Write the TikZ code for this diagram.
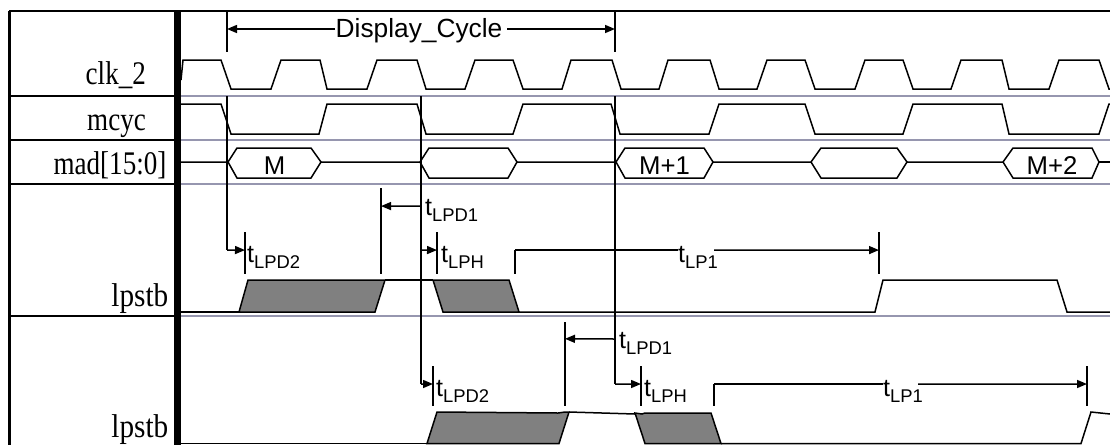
\documentclass[tikz,border=0pt]{standalone}
\usepackage{fontspec}
\setmainfont{Liberation Serif}
\setsansfont{Liberation Sans}
\usetikzlibrary{arrows.meta}
\definecolor{sepgray}{RGB}{150,150,175}
\definecolor{fillgray}{RGB}{128,128,128}
\newcommand{\tsub}[1]{{\fontsize{25}{25}\selectfont t}\raisebox{-6pt}{\fontsize{18.4}{18.4}\selectfont #1}}

\begin{document}
\begin{tikzpicture}[x=1pt,y=-1pt,>={Triangle[length=10pt,width=8pt]}]

%
% Styles
%
\tikzstyle{frame} = [line width=2pt,black]
\tikzstyle{sep} = [line width=1.6pt,sepgray]
\tikzstyle{wave} = [line width=1.5pt,black,line join=miter]
\tikzstyle{burst} = [line width=1.5pt,black,fill=fillgray]
\tikzstyle{tick} = [line width=1.5pt,black]
\tikzstyle{sig} = [anchor=base east,inner sep=0pt,xscale=0.82,font=\fontsize{33}{33}\selectfont\rmfamily]
\tikzstyle{data} = [anchor=base,inner sep=0pt,font=\fontsize{25.7}{25.7}\selectfont\sffamily]
\tikzstyle{timing} = [anchor=base west,inner sep=0pt,font=\sffamily]

\useasboundingbox (0,0) rectangle (1110,445);

% frame
\draw[frame] (9,11) -- (1110,11);
\draw[line width=3pt] (9.5,11) -- (9.5,445);
\draw[line width=7pt] (177.5,11) -- (177.5,445);
\foreach \y in {96,140,184,316} {
  \draw[frame] (9,\y) -- (174,\y);
  \draw[sep] (181,\y) -- (1110,\y);
}

% signal names
\node[sig] (clk) at (146,84) {clk\_2};
\node[sig] (mcyc) at (146,130) {mcyc};
\node[sig] (mad) at (166.5,174) {mad[15:0]};
\node[sig,xscale=1.08] (lpstba) at (168.5,306) {lpstb};
\node[sig,xscale=1.08] (lpstbb) at (168.5,437) {lpstb};

% clk_2
\draw[wave] (181,80) -- (183,60) -- (221,60) -- (231,89) -- (271,89) -- (281,60)
  -- (320,60) -- (327,89) -- (367,89) -- (377,60) -- (417,60) -- (426,89)
  -- (465,89) -- (475,60) -- (513,60) -- (523,89) -- (562,89) -- (571,60)
  -- (612,60) -- (621,89) -- (659,89) -- (668,60) -- (710,60) -- (719,89)
  -- (757,89) -- (767,60) -- (805,60) -- (815,89) -- (855,89) -- (865,60)
  -- (903,60) -- (913,89) -- (951,89) -- (961,60) -- (1002,60) -- (1009,89)
  -- (1049,89) -- (1059,60) -- (1099,60) -- (1109,89) -- (1110,89);

% mcyc
\draw[wave] (181,104) -- (221,104) -- (231,134) -- (319,134) -- (327,104)
  -- (417,104) -- (426,134) -- (513,134) -- (523,104) -- (611,104) -- (620,134)
  -- (709,134) -- (719,104) -- (805,104) -- (815,134) -- (903,134) -- (913,104)
  -- (1002,104) -- (1009,134) -- (1099,134) -- (1109,104) -- (1110,104);

% mad
\draw[wave] (181,162) -- (228,162) -- (237,148) -- (311,148) -- (321,162) -- (311,178) -- (237,178) -- (228,162);
\draw[wave] (321,162) -- (420,162) -- (429,148) -- (508,148) -- (517,162) -- (508,178) -- (429,178) -- (420,162);
\draw[wave] (517,162) -- (616,162) -- (625,148) -- (704,148) -- (713,162) -- (704,178) -- (625,178) -- (616,162);
\draw[wave] (713,162) -- (811,162) -- (821,148) -- (897,148) -- (907,162) -- (897,178) -- (821,178) -- (811,162);
\draw[wave] (907,162) -- (1003,162) -- (1013,148) -- (1092,148) -- (1099,162) -- (1092,178) -- (1013,178) -- (1003,162);
\draw[wave] (1099,162) -- (1110,162);
\node[data] (m) at (274.5,174) {M};
\node[data] (mp1) at (664.5,174) {M+1};
\node[data] (mp2) at (1052,174) {M+2};

% lpstb, first
\draw[wave] (181,312) -- (239,312);
\draw[burst] (239,312) -- (248,280) -- (385,280) -- (375,312) -- cycle;
\draw[wave] (385,280) -- (433,280);
\draw[burst] (433,280) -- (509,280) -- (519,312) -- (443,312) -- cycle;
\draw[wave] (519,312) -- (875,312) -- (883,280) -- (1057,280) -- (1067,312) -- (1110,312);

% lpstb, second
\draw[wave] (181,443.5) -- (427,443.5);
\draw[burst] (427,443.5) -- (437,412) -- (558,413) -- (565,412) -- (569,412) -- (559,443.5) -- cycle;
\draw[wave] (569,412) -- (635,414);
\draw[burst] (635,413) -- (645,443.5) -- (721,443.5) -- (711,413) -- (645,413) -- (642,414) -- cycle;
\draw[wave] (721,443.5) -- (1081,443.5) -- (1091,412) -- (1110,414);

% reference lines
\coordinate (dcl) at (227,29);
\coordinate (dcr) at (615,29);
\coordinate (aa) at (227,250);
\coordinate (bb) at (421,250);
\coordinate (bc) at (421,206);
\coordinate (bd) at (421,384);
\coordinate (cc) at (615,384);
\coordinate (cd) at (615,339);
\foreach \x in {227,615} {
  \draw[tick] (\x,11) -- (\x,52);
}
\draw[tick] (227,96) -- (aa);
\draw[tick] (421,96) -- (bd);
\draw[tick] (615,96) -- (cc);

% ticks
\draw[tick] (245,232) -- coordinate[pos=0.43] (ta) (245,274);
\draw[tick] (381,188) -- coordinate[pos=0.21] (tb) (381,274);
\draw[tick] (437,232) -- coordinate[pos=0.43] (tc) (437,274);
\draw[tick] (515,250) -- coordinate[pos=0] (td) (515,274);
\draw[tick] (879,232) -- coordinate[pos=0.43] (te) (879,274);
\draw[tick] (565,322) -- coordinate[pos=0.2] (tf) (565,406);
\draw[tick] (433,366) -- coordinate[pos=0.45] (tg) (433,406);
\draw[tick] (641,366) -- coordinate[pos=0.45] (th) (641,406);
\draw[tick] (714,384) -- coordinate[pos=0] (ti) (714,406);
\draw[tick] (1087,366) -- coordinate[pos=0.45] (tj) (1087,406);

% labels
\node[data,font=\fontsize{26.3}{26.3}\selectfont\sffamily] (cycle) at (419,37) {Display\_Cycle};
\node[timing] (lpda) at (247,262) {\tsub{LPD2}};
\node[timing] (lpdb) at (425,215) {\tsub{LPD1}};
\node[timing] (lpha) at (441,262) {\tsub{LPH}};
\node[timing] (lpa) at (678,262) {\tsub{LP1}};
\node[timing] (lpdc) at (619,348) {\tsub{LPD1}};
\node[timing] (lpdd) at (436,396) {\tsub{LPD2}};
\node[timing] (lphb) at (644,396) {\tsub{LPH}};
\node[timing] (lpb) at (883,396) {\tsub{LP1}};

% measurements
\draw[tick,->] (335,29) -- (dcl);
\draw[tick,->] (507,29) -- (dcr);
\draw[tick,->] (aa) -- (ta);
\draw[tick,->] (bb) -- (tc);
\draw[tick,->] (bc) -- (tb);
\draw[tick] (td) -- (678,250);
\draw[tick,->] (714,250) -- (te);
\draw[tick,->] (cd) -- (tf);
\draw[tick,->] (bd) -- (tg);
\draw[tick,->] (cc) -- (th);
\draw[tick] (ti) -- (883,384);
\draw[tick,->] (918,384) -- (tj);

\end{tikzpicture}
\end{document}
